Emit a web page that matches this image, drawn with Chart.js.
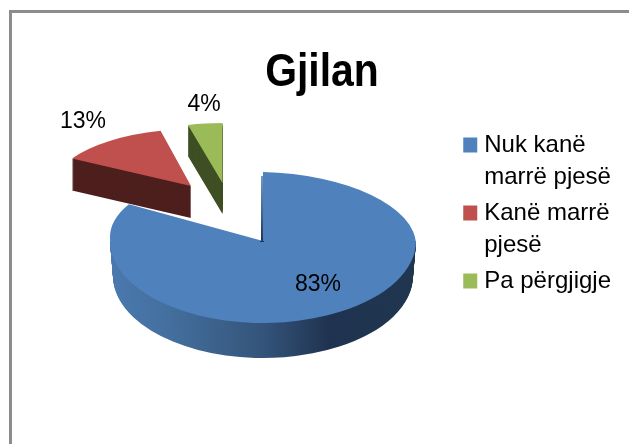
<!DOCTYPE html>
<html>
<head>
<meta charset="utf-8">
<style>
  html, body { margin: 0; padding: 0; background: #fff; overflow: hidden; }
  #wrap { position: relative; width: 629px; height: 444px; overflow: hidden; }
  #frame { position: absolute; left: 9px; top: 10px; width: 800px; height: 800px; border: 3px solid #8c8c8c; }
  canvas { position: absolute; left: 0; top: 0; }
</style>
<script src="https://cdn.jsdelivr.net/npm/chart.js@4"></script>
</head>
<body>
<div id="wrap">
  <div id="frame"></div>
  <canvas id="pie-chart" width="629" height="444"></canvas>
</div>
<script>
var categories = [["Nuk kanë", "marrë pjesë"], ["Kanë marrë", "pjesë"], ["Pa përgjigje"]];
var values = [83, 13, 4];
var percentLabels = ["83%", "13%", "4%"];

var topColors = ["#4f81bd", "#c0504d", "#9bbb59"];
var sideColors = [null, "#4d1f1d", "#3f4f24"];

// where each wedge tip lands and how the flat pie is squashed
var wedges = [
    { x: 263, y: 241, rx: 153, ryTop: 69, ryBottom: 82, tilt: 4, depth: 35 },
    { x: 191, y: 186, rx: 138, ryTop: 57, skew: -4, depth: 32 },
    { x: 222.5, y: 183, rx: 139, ryTop: 60, skew: 0, depth: 31 }
];
var labelSpots = [[318, 285], [83, 122], [204, 105]];

function placeArc(ctx, arc, w, ry, dy, shrink, tilt) {
    var r = arc.outerRadius;
    var rx = w.rx - (shrink || 0);
    ctx.transform(rx / r, (tilt || 0) / r, (w.skew || 0) / r, ry / r, w.x, w.y + dy);
    ctx.translate(-arc.x, -arc.y);
}

function drawWith(ctx, arc, color) {
    var keep = arc.options;
    arc.options = Object.assign({}, keep, { backgroundColor: color });
    arc.draw(ctx);
    arc.options = keep;
}

function blueGradient(ctx, arc) {
    var r = arc.outerRadius;
    var g = ctx.createLinearGradient(arc.x - r, 0, arc.x + r, 0);
    g.addColorStop(0, "#4b79ae");
    g.addColorStop(0.18, "#44709f");
    g.addColorStop(0.5, "#34547a");
    g.addColorStop(0.72, "#1f3350");
    g.addColorStop(1, "#20364f");
    return g;
}

function drawBlue(ctx, arc, w) {
    var d;
    ctx.save();
    ctx.beginPath();
    ctx.rect(0, w.y, 629, 203);
    ctx.clip();
    for (d = w.depth; d >= 1; d--) {
        ctx.save();
        placeArc(ctx, arc, w, w.ryBottom, d, 3 * d / w.depth);
        drawWith(ctx, arc, blueGradient(ctx, arc));
        ctx.restore();
    }
    ctx.save();
    placeArc(ctx, arc, w, w.ryBottom, 0);
    arc.draw(ctx);
    ctx.restore();
    ctx.restore();

    // thin inner wall showing along the vertical cut
    ctx.save();
    ctx.beginPath();
    ctx.rect(w.x - 3, w.y - w.ryTop + 4, 4, w.ryTop - 3);
    ctx.clip();
    ctx.translate(-2, 0);
    placeArc(ctx, arc, w, w.ryTop, 0, 0, w.tilt);
    var wall = ctx.createLinearGradient(0, arc.y - arc.outerRadius, 0, arc.y);
    wall.addColorStop(0, "#7d9cc4");
    wall.addColorStop(0.6, "#3f6490");
    wall.addColorStop(1, "#1f3350");
    drawWith(ctx, arc, wall);
    ctx.restore();

    ctx.save();
    ctx.beginPath();
    ctx.rect(0, 0, 629, w.y);
    ctx.clip();
    placeArc(ctx, arc, w, w.ryTop, 0, 0, w.tilt);
    arc.draw(ctx);
    ctx.restore();
}

function drawWedge(ctx, arc, w, side) {
    var d;
    for (d = w.depth; d >= 1; d--) {
        ctx.save();
        placeArc(ctx, arc, w, w.ryTop, d);
        drawWith(ctx, arc, side);
        ctx.restore();
    }
    ctx.save();
    placeArc(ctx, arc, w, w.ryTop, 0);
    arc.draw(ctx);
    ctx.restore();
}

var pie3d = {
    id: "pie3d",
    beforeDraw: function(chart) {
        // the title in the picture is a squeezed Arial, no narrow bold is installed
        var t = chart.titleBlock;
        if (t.squeezed) return;
        var drawTitle = t.draw;
        t.squeezed = true;
        t.draw = function() {
            var ctx = chart.ctx;
            ctx.save();
            ctx.translate(322, 0);
            ctx.scale(0.87, 1);
            ctx.translate(-(t.left + t.right) / 2, 0);
            drawTitle.call(t);
            ctx.restore();
        };
    },
    beforeDatasetDraw: function(chart, args) {
        var ctx = chart.ctx;
        var arcs = args.meta.data;
        drawBlue(ctx, arcs[0], wedges[0]);
        drawWedge(ctx, arcs[1], wedges[1], sideColors[1]);
        drawWedge(ctx, arcs[2], wedges[2], sideColors[2]);
        return false;
    },
    afterDatasetsDraw: function(chart) {
        var ctx = chart.ctx;
        ctx.save();
        ctx.font = "23px 'Liberation Sans'";
        ctx.fillStyle = "#000";
        ctx.textAlign = "center";
        ctx.textBaseline = "middle";
        percentLabels.forEach(function(t, i) {
            ctx.fillText(t, labelSpots[i][0], labelSpots[i][1]);
        });
        ctx.restore();
    }
};

var chart = new Chart(document.getElementById("pie-chart").getContext("2d"), {
    type: "pie",
    plugins: [pie3d],
    data: {
        labels: categories,
        datasets: [{
            data: values,
            backgroundColor: topColors,
            borderWidth: 0
        }]
    },
    options: {
        responsive: false,
        animation: false,
        layout: { padding: { left: 16, right: 8, top: 36, bottom: 46 } },
        plugins: {
            tooltip: { enabled: false },
            title: {
                display: true,
                text: "Gjilan",
                color: "#000",
                font: { family: "'Liberation Sans'", size: 47, weight: "bold" },
                padding: { top: 9, bottom: 10 }
            },
            legend: {
                position: "right",
                labels: {
                    color: "#000",
                    usePointStyle: true,
                    boxWidth: 5,
                    boxHeight: 15,
                    padding: 4,
                    font: { family: "'Liberation Sans'", size: 24, lineHeight: 1.333 },
                    generateLabels: function() {
                        return categories.map(function(c, i) {
                            return { text: c, fillStyle: topColors[i], strokeStyle: topColors[i], lineWidth: 0, pointStyle: "rect", index: i };
                        });
                    }
                }
            }
        }
    }
});
</script>
</body>
</html>
